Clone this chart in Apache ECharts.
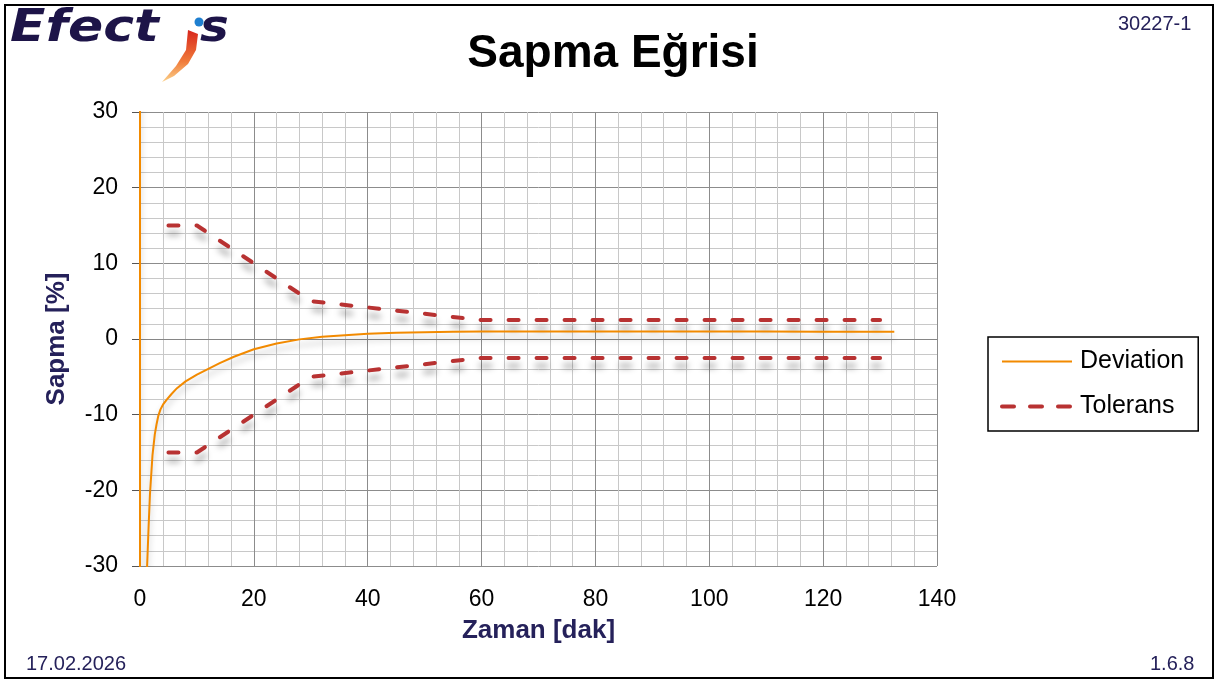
<!DOCTYPE html>
<html>
<head>
<meta charset="utf-8">
<script src="https://cdn.jsdelivr.net/npm/echarts@6/dist/echarts.min.js"></script>
<style>
  html, body { margin: 0; padding: 0; background: #fff; }
  #chart { width: 1217px; height: 683px; }
</style>
</head>
<body>
<div id="chart"></div>
<script>
  // time axis [dak] and deviation [%]
  const devTime = [0, 0, 1.1, 1.5, 1.75, 2.2, 2.6, 2.9, 3.2, 3.6, 4.1, 4.7, 5.5, 6.5, 8, 10, 12, 14, 16.5, 20, 24, 28, 32, 36, 40, 45, 50, 55, 60, 70, 80, 90, 100, 110, 120, 132.5];
  const devValue = [100, -100, -33, -25, -20.5, -15.3, -12.6, -11.3, -10.2, -9.3, -8.6, -8.0, -7.3, -6.5, -5.6, -4.7, -3.95, -3.2, -2.35, -1.35, -0.6, -0.05, 0.3, 0.5, 0.7, 0.82, 0.9, 0.95, 0.98, 1.0, 1.0, 1.0, 1.0, 0.98, 0.97, 0.95];

  // tolerance band
  const tolTime = [5, 10, 20, 30, 40, 50, 60, 130];
  const tolUpper = [15, 15, 10, 5, 4.17, 3.33, 2.5, 2.5];
  const tolLower = [-15, -15, -10, -5, -4.17, -3.33, -2.5, -2.5];

  const navy = '#25215a';
  const font = 'Liberation Sans, Arial, sans-serif';

  const pairs = (xs, ys) => xs.map((x, i) => [x, ys[i]]);

  const chart = echarts.init(document.getElementById('chart'));

  const tolStyle = {
    color: '#b83232',
    width: 4,
    type: [10, 18],
    cap: 'round',
    shadowColor: 'rgba(0,0,0,0.35)',
    shadowBlur: 6,
    shadowOffsetY: 8
  };

  const options = {
    animation: false,
    backgroundColor: '#fff',
    textStyle: { fontFamily: font },
    title: {
      text: 'Sapma Eğrisi',
      left: 608,
      top: 26,
      textAlign: 'center',
      textStyle: { fontSize: 46, fontWeight: 'bold', color: '#000', fontFamily: font }
    },
    legend: {
      orient: 'vertical',
      left: 988,
      top: 337,
      padding: [12, 14, 12, 12],
      itemWidth: 70,
      itemHeight: 4,
      itemGap: 20,
      borderColor: '#000',
      borderWidth: 1.5,
      itemStyle: { opacity: 0 },
      textStyle: { fontSize: 25, color: '#000', fontFamily: font, padding: [0, 0, 0, 3] },
      data: [
        { name: 'Deviation', lineStyle: { width: 2, shadowBlur: 0, shadowOffsetY: 0 } },
        { name: 'Tolerans', lineStyle: { width: 4, type: [12, 16], cap: 'round', shadowBlur: 0, shadowOffsetY: 0 } }
      ]
    },
    grid: { left: 140, top: 112, width: 797, height: 454, containLabel: false },
    xAxis: {
      type: 'value',
      min: 0,
      max: 140,
      interval: 20,
      name: 'Zaman [dak]',
      nameLocation: 'middle',
      nameGap: 52,
      nameTextStyle: { fontSize: 26, fontWeight: 'bold', color: navy, fontFamily: font },
      axisLine: { show: true, lineStyle: { color: '#868686', width: 1 } },
      axisTick: { show: false },
      axisLabel: { fontSize: 23, color: '#000', margin: 22, fontFamily: font },
      splitLine: { show: true, lineStyle: { color: '#8c8c8c', width: 1 } },
      minorTick: { show: false, splitNumber: 5 },
      minorSplitLine: { show: true, lineStyle: { color: '#c8c8c8', width: 1 } }
    },
    yAxis: {
      type: 'value',
      min: -30,
      max: 30,
      interval: 10,
      name: 'Sapma [%]',
      nameLocation: 'middle',
      nameGap: 70,
      nameTextStyle: { fontSize: 26, fontWeight: 'bold', color: navy, fontFamily: font },
      axisLine: { show: true, lineStyle: { color: '#555', width: 1 } },
      axisTick: { show: true, length: 8, lineStyle: { color: '#555' } },
      axisLabel: { fontSize: 23, color: '#000', margin: 22, fontFamily: font },
      splitLine: { show: true, lineStyle: { color: '#8c8c8c', width: 1 } },
      minorTick: { show: false, splitNumber: 5 },
      minorSplitLine: { show: true, lineStyle: { color: '#c8c8c8', width: 1 } }
    },
    series: [
      {
        name: 'Deviation',
        type: 'line',
        data: pairs(devTime, devValue),
        symbol: 'none',
        clip: true,
        color: '#f28a00',
        lineStyle: {
          color: '#f28a00',
          width: 2,
          shadowColor: 'rgba(0,0,0,0.25)',
          shadowBlur: 6,
          shadowOffsetY: 6
        },
        z: 3
      },
      {
        name: 'Tolerans',
        type: 'line',
        data: pairs(tolTime, tolUpper),
        symbol: 'none',
        color: '#b83232',
        lineStyle: tolStyle,
        z: 2
      },
      {
        name: 'Tolerans',
        type: 'line',
        data: pairs(tolTime, tolLower),
        symbol: 'none',
        color: '#b83232',
        lineStyle: tolStyle,
        z: 2
      }
    ],
    graphic: [
      {
        type: 'rect',
        shape: { x: 5, y: 5, width: 1208, height: 673 },
        style: { fill: 'none', stroke: '#000', lineWidth: 2 },
        z: -1
      },
      {
        type: 'text',
        left: 1118,
        top: 14,
        style: { text: '30227-1', fill: navy, font: '20px ' + font }
      },
      {
        type: 'text',
        left: 26,
        top: 654,
        style: { text: '17.02.2026', fill: navy, font: '20px ' + font }
      },
      {
        type: 'text',
        left: 1150,
        top: 654,
        style: { text: '1.6.8', fill: navy, font: '20px ' + font }
      },
      // Efectis logo
      {
        type: 'text',
        x: 10,
        y: 8,
        scaleX: 1.18,
        style: { text: 'Efect', fill: '#1d1448', font: 'italic bold 44px "DejaVu Sans", sans-serif' }
      },
      {
        type: 'text',
        x: 200,
        y: 8,
        scaleX: 1.1,
        style: { text: 's', fill: '#1d1448', font: 'italic bold 44px "DejaVu Sans", sans-serif' }
      },
      {
        type: 'polygon',
        shape: { points: [[188, 30], [198, 34], [196, 50], [188, 64], [174, 76], [162, 82], [176, 66], [186, 50]] },
        style: {
          fill: new echarts.graphic.LinearGradient(0, 0, 0, 1, [
            { offset: 0, color: '#d8261c' },
            { offset: 0.6, color: '#f07a3a' },
            { offset: 1, color: '#fbd18a' }
          ])
        }
      },
      {
        type: 'circle',
        shape: { cx: 199, cy: 22, r: 4.5 },
        style: { fill: '#1e7fd0' }
      }
    ]
  };

  chart.setOption(options);
</script>
</body>
</html>
